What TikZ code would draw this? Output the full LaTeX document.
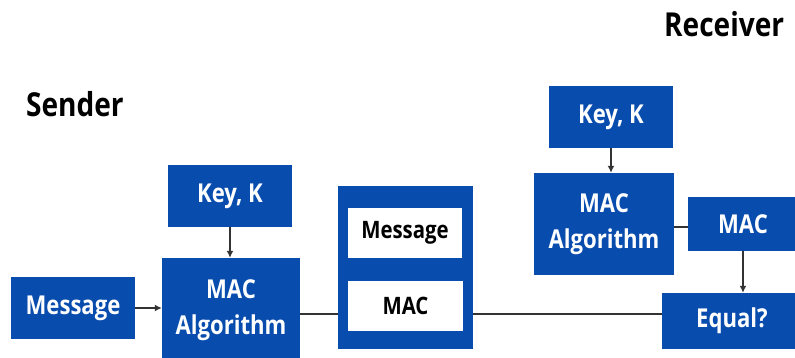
\documentclass[tikz,border=0pt]{standalone}
\usepackage{fontspec}
\setmainfont{Open Sans}[FakeStretch=0.85]
\usetikzlibrary{arrows.meta}
\definecolor{macblue}{RGB}{8,76,174}
\definecolor{wire}{RGB}{51,51,51}
\begin{document}
\begin{tikzpicture}[x=1pt,y=-1pt,
    blk/.style={fill=macblue,text=white,inner sep=0pt,align=center,
      font=\bfseries\fontsize{26}{36}\selectfont},
    slot/.style={fill=white,text=black,inner sep=0pt,
      font=\bfseries\fontsize{24}{30}\selectfont},
    side/.style={anchor=base west,inner sep=0pt,
      font=\bfseries\fontsize{33}{36}\selectfont},
    wire/.style={draw=wire,line width=1.6pt},
    arr/.style={wire,-{Latex[length=7pt,width=7pt]}}]
  \clip (0,0) rectangle (795,358);
  \fill[white] (0,0) rectangle (795,358);
  \draw
    (26,117) node[side] (snd){Sender}
    (664,37) node[side] (rcv){Receiver}
    (230,196) node[blk,minimum width=124pt,minimum height=62pt] (key1){Key, K}
    (73,308) node[blk,minimum width=124pt,minimum height=62pt] (msg){Message}
    (231,310) node[blk,minimum width=138pt,minimum height=104pt] (alg1){MAC\\Algorithm}
    (405.5,267.5) node[blk,minimum width=135pt,minimum height=163pt] (pkt){}
    (405,233) node[slot,minimum width=114pt,minimum height=50pt] (pmsg){Message}
    (405.5,306) node[slot,minimum width=115pt,minimum height=50pt] (pmac){MAC}
    (611,117) node[blk,minimum width=124pt,minimum height=62pt] (key2){Key, K}
    (604,224) node[blk,minimum width=140pt,minimum height=102pt] (alg2){MAC\\Algorithm}
    (743,224) node[blk,minimum width=110pt,minimum height=54pt] (mac2){MAC}
    (732,321) node[blk,minimum width=140pt,minimum height=56pt] (eq){Equal?};
  \begin{scope}
    \draw[arr] (msg.east) -- (msg.east -| alg1.west);
    \draw[arr] (key1.south) -- (key1.south |- alg1.north);
    \draw[wire] ([yshift=-4pt]alg1.east) -- ([yshift=-4pt]alg1.east -| pkt.west);
    \draw[wire] ([yshift=7pt]eq.west) -- ([yshift=7pt]eq.west -| pkt.east);
    \draw[arr] (key2.south) -- (key2.south |- alg2.north);
    \draw[wire] ([yshift=-3pt]alg2.east) -- ([yshift=-3pt]alg2.east -| mac2.west);
    \draw[arr] (mac2.south) -- (mac2.south |- eq.north);
  \end{scope}
\end{tikzpicture}
\end{document}
